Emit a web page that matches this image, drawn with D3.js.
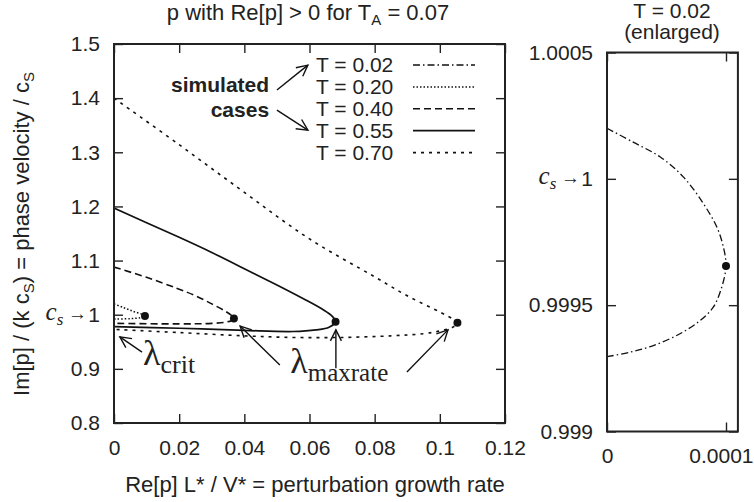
<!DOCTYPE html>
<html>
<head>
<meta charset="utf-8">
<script src="https://cdn.jsdelivr.net/npm/d3@7/dist/d3.min.js"></script>
<style>
  body { margin: 0; background: #fff; }
  svg text { font-family: "Liberation Sans", Arial, sans-serif; fill: #222; }
</style>
</head>
<body>
<svg id="chart" width="754" height="502"></svg>
<script>
// values: [Re[p], Im[p]/(k cs)] along each curve, upper branch -> tip -> lower branch
const seriesNames = ["T = 0.02", "T = 0.20", "T = 0.40", "T = 0.55", "T = 0.70"];

const curveT002 = [[0, 1.00020], [0.0000220, 1.000145], [0.0000445, 1.0000873], [0.0000641, 1.0000079],
  [0.0000809, 0.9999024], [0.0000922, 0.999810], [0.0000978, 0.999730], [0.0001, 0.999655],
  [0.0000964, 0.999571], [0.0000893, 0.999492], [0.0000782, 0.999439], [0.0000613, 0.999387],
  [0.0000389, 0.999340], [0.0000193, 0.999314], [0, 0.999296]];
const curveT020 = [[0, 1.020], [0.003, 1.013], [0.006, 1.006], [0.0085, 1.001], [0.0095, 0.9975],
  [0.008, 0.9945], [0.005, 0.9928], [0, 0.992]];
const curveT040 = [[0, 1.088], [0.01, 1.069], [0.0192, 1.049], [0.025, 1.035], [0.03, 1.020], [0.034, 1.007],
  [0.036, 0.999], [0.0368, 0.993], [0.036, 0.989], [0.034, 0.986], [0.03, 0.984], [0.02, 0.983], [0, 0.984]];
const curveT055 = [[0, 1.197], [0.01, 1.170], [0.02, 1.143], [0.03, 1.115], [0.04, 1.085], [0.05, 1.055],
  [0.058, 1.030], [0.064, 1.010], [0.067, 0.997], [0.068, 0.987], [0.066, 0.977], [0.062, 0.972],
  [0.055, 0.969], [0.04, 0.971], [0.02, 0.975], [0, 0.978]];
const curveT070 = [[0, 1.400], [0.02, 1.314], [0.04, 1.226], [0.06, 1.140], [0.08, 1.070], [0.09, 1.035],
  [0.1, 1.005], [0.104, 0.992], [0.1054, 0.985], [0.104, 0.977], [0.1, 0.970], [0.095, 0.965],
  [0.085, 0.961], [0.07, 0.958], [0.055, 0.958], [0.04, 0.961], [0.02, 0.967], [0, 0.973]];

// max growth rate points (dots)
const maxRateT002 = [0.0001, 0.999655];
const maxRateLeft = [[0.0095, 0.9975], [0.0368, 0.993], [0.068, 0.987], [0.1054, 0.985]];

// tick values and labels
const xTicksL = [0, 0.02, 0.04, 0.06, 0.08, 0.1, 0.12];
const xLabelsL = ["0", "0.02", "0.04", "0.06", "0.08", "0.1", "0.12"];
const yTicksL = [0.8, 0.9, 1, 1.1, 1.2, 1.3, 1.4, 1.5];
const yLabelsL = ["0.8", "0.9", "1", "1.1", "1.2", "1.3", "1.4", "1.5"];
const xTicksR = [0, 0.0001];
const xLabelsR = ["0", "0.0001"];
const yTicksR = [0.999, 0.9995, 1, 1.0005];
const yLabelsR = ["0.999", "0.9995", "1", "1.0005"];

const curves = [curveT002, curveT020, curveT040, curveT055, curveT070];
const dashes = ["7,3,1.5,3", "1.5,2", "7,4", null, "3,5"];
const widths = [1.3, 1.5, 1.6, 1.7, 1.6];

const svg = d3.select("#chart");
const fs = 21;

// scales
const xL = d3.scaleLinear().domain([0, 0.12]).range([114, 505]);
const yL = d3.scaleLinear().domain([0.8, 1.5]).range([423, 44]);
const xR = d3.scaleLinear().domain([0, 0.00011]).range([607, 737.9]);
const yR = d3.scaleLinear().domain([0.999, 1.0005]).range([431.5, 52.5]);

const line = (x, y) => d3.line()
  .x(d => x(d[0]))
  .y(d => y(d[1]))
  .curve(d3.curveCatmullRom.alpha(0.5));

function frame(x, y, xt, xl, yt, yl) {
  const [x0, x1] = x.range();
  const [y0, y1] = y.range();
  const g = svg.append("g");
  const style = a => a.call(s => s.select(".domain").remove())
    .call(s => s.selectAll(".tick line").attr("stroke", "#222").attr("stroke-width", 1.4))
    .call(s => s.selectAll("text").attr("font-size", fs).attr("fill", "#222"))
    .attr("font-family", null).attr("font-size", null);
  const bottom = g.append("g").attr("transform", `translate(0,${y0})`)
    .call(d3.axisBottom(x).tickValues(xt).tickFormat((d, i) => xl[i]).tickSize(-9).tickPadding(17)).call(style);
  g.append("g").attr("transform", `translate(0,${y1})`)
    .call(d3.axisTop(x).tickValues(xt).tickFormat("").tickSize(-9)).call(style);
  g.append("g").attr("transform", `translate(${x0},0)`)
    .call(d3.axisLeft(y).tickValues(yt).tickFormat((d, i) => yl[i]).tickSize(-9).tickPadding(14)).call(style);
  g.append("g").attr("transform", `translate(${x1},0)`)
    .call(d3.axisRight(y).tickValues(yt).tickFormat("").tickSize(-9)).call(style);
  g.append("rect")
    .attr("x", x0).attr("y", y1).attr("width", x1 - x0).attr("height", y0 - y1)
    .attr("fill", "none").attr("stroke", "#222").attr("stroke-width", 2);
  return bottom;
}

// clip for left panel
svg.append("clipPath").attr("id", "clipL").append("rect")
  .attr("x", xL(0)).attr("y", yL(1.5)).attr("width", xL(0.12) - xL(0)).attr("height", yL(0.8) - yL(1.5));

// left panel curves
svg.append("g").attr("clip-path", "url(#clipL)")
  .selectAll("path")
  .data(curves)
  .join("path")
    .attr("d", d => line(xL, yL)(d))
    .attr("fill", "none")
    .attr("stroke", "#111")
    .attr("stroke-width", (d, i) => widths[i])
    .attr("stroke-dasharray", (d, i) => dashes[i]);

svg.append("g").selectAll("circle")
  .data(maxRateLeft)
  .join("circle")
    .attr("cx", d => xL(d[0]))
    .attr("cy", d => yL(d[1]))
    .attr("r", 4)
    .attr("fill", "#111");

frame(xL, yL, xTicksL, xLabelsL, yTicksL, yLabelsL);

// right panel (T = 0.02 enlarged)
svg.append("path")
  .attr("d", line(xR, yR)(curveT002))
  .attr("fill", "none")
  .attr("stroke", "#111")
  .attr("stroke-width", widths[0])
  .attr("stroke-dasharray", dashes[0]);
svg.append("circle")
  .attr("cx", xR(maxRateT002[0]))
  .attr("cy", yR(maxRateT002[1]))
  .attr("r", 4)
  .attr("fill", "#111");

const bottomR = frame(xR, yR, xTicksR, xLabelsR, yTicksR, yLabelsR);
// last label sits against the right edge of the picture
bottomR.selectAll(".tick text").filter((d, i) => i === 1)
  .attr("text-anchor", "end").attr("x", 27);

// legend
const legend = svg.append("g");
seriesNames.forEach((name, i) => {
  const yy = 65 + i * 21.9;
  legend.append("text")
    .attr("x", 316).attr("y", yy).attr("dy", "0.35em")
    .attr("font-size", fs)
    .text(name);
  legend.append("line")
    .attr("x1", 413).attr("x2", 475).attr("y1", yy).attr("y2", yy)
    .attr("stroke", "#111")
    .attr("stroke-width", widths[i])
    .attr("stroke-dasharray", dashes[i]);
});

// arrows
const defs = svg.append("defs");
defs.append("marker")
  .attr("id", "head")
  .attr("viewBox", "-12 -7 14 14")
  .attr("refX", 0).attr("refY", 0)
  .attr("markerWidth", 14).attr("markerHeight", 14)
  .attr("markerUnits", "userSpaceOnUse")
  .attr("orient", "auto")
  .append("path")
    .attr("d", "M-11,-5.5L0,0L-11,5.5")
    .attr("fill", "none").attr("stroke", "#111").attr("stroke-width", 1.4);

// arrows in data coordinates of the left panel: [from, to]
const arrowsL = [
  [[0.0500, 1.415], [0.0595, 1.461]],
  [[0.0500, 1.378], [0.0595, 1.341]],
  [[0.0086, 0.931], [0.0018, 0.959]],
  [[0.0509, 0.907], [0.0387, 0.979]],
  [[0.0681, 0.901], [0.0681, 0.972]],
  [[0.0899, 0.894], [0.1025, 0.972]]
];
svg.append("g").selectAll("line")
  .data(arrowsL)
  .join("line")
    .attr("x1", d => xL(d[0][0])).attr("y1", d => yL(d[0][1]))
    .attr("x2", d => xL(d[1][0])).attr("y2", d => yL(d[1][1]))
    .attr("stroke", "#111").attr("stroke-width", 1.4)
    .attr("marker-end", "url(#head)");

// "simulated cases"
svg.append("text")
  .attr("x", xL(0.0476)).attr("y", yL(1.412))
  .attr("text-anchor", "end").attr("font-weight", "bold").attr("font-size", fs)
  .text("simulated");
svg.append("text")
  .attr("x", xL(0.0476)).attr("y", yL(1.366))
  .attr("text-anchor", "end").attr("font-weight", "bold").attr("font-size", fs)
  .text("cases");

// lambda labels
const serif = '"Liberation Serif", "Times New Roman", serif';
function lambda(x, y, sub, subSize) {
  const t = svg.append("text").attr("x", x).attr("y", y).style("font-family", serif);
  t.append("tspan").attr("font-size", 36).text("λ");
  t.append("tspan").attr("font-size", subSize).attr("dy", 8).text(sub);
}
lambda(xL(0.0089), yL(0.908), "crit", 26);
lambda(xL(0.0541), yL(0.893), "maxrate", 25);

// c_s -> 1 labels
function csArrow(xEnd, y) {
  const t = svg.append("text").attr("x", xEnd).attr("y", y).attr("dy", "0.32em")
    .attr("text-anchor", "end").style("font-family", serif);
  t.append("tspan").attr("font-size", 25).attr("font-style", "italic").text("c");
  t.append("tspan").attr("font-size", 17).attr("font-style", "italic").attr("dy", 5).text("s");
  t.append("tspan").attr("font-size", 19).attr("dy", -5).text(" →");
}
csArrow(xL(0) - 14 - 13, yL(1));
csArrow(xR(0) - 14 - 13, yR(1));

// titles
const title = svg.append("text").attr("x", 308).attr("y", 20)
  .attr("text-anchor", "middle").attr("font-size", fs + 1);
title.append("tspan").text("p with Re[p] > 0 for T");
title.append("tspan").attr("font-size", 15).attr("dy", 5).text("A");
title.append("tspan").attr("dy", -5).text(" = 0.07");

svg.append("text").attr("x", 672).attr("y", 18)
  .attr("text-anchor", "middle").attr("font-size", fs).text("T = 0.02");
svg.append("text").attr("x", 672).attr("y", 39)
  .attr("text-anchor", "middle").attr("font-size", fs).text("(enlarged)");

// axis titles
svg.append("text").attr("x", 315).attr("y", 492)
  .attr("text-anchor", "middle").attr("font-size", fs + 1)
  .text("Re[p] L* / V* = perturbation growth rate");

const ylab = svg.append("text")
  .attr("transform", "translate(29,234) rotate(-90)")
  .attr("text-anchor", "middle").attr("font-size", fs + 1);
ylab.append("tspan").text("Im[p] / (k c");
ylab.append("tspan").attr("font-size", 15).attr("dy", 5).text("S");
ylab.append("tspan").attr("dy", -5).text(") = phase velocity / c");
ylab.append("tspan").attr("font-size", 15).attr("dy", 5).text("S");
</script>
</body>
</html>
